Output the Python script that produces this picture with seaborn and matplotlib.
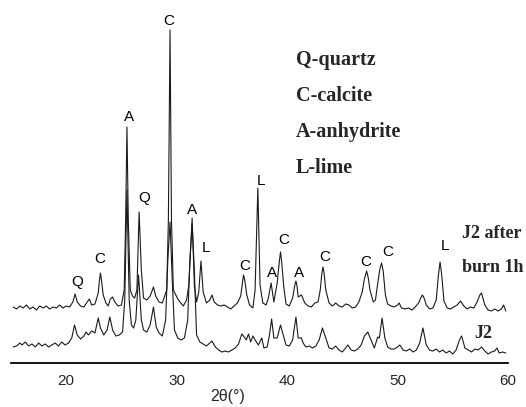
import numpy as np
import pandas as pd
import matplotlib
matplotlib.use("Agg")
import matplotlib.pyplot as plt
import seaborn as sns

# ---------------- data ----------------
# J2 after burn 1h : 2theta and intensity (arbitrary units)
burn_2theta = [15.2, 15.5, 15.8, 16.1, 16.4, 16.7, 17.0, 17.3, 17.6, 17.9, 18.2, 18.5, 18.8, 19.1,
               19.4, 19.7, 20.0, 20.3, 20.6, 20.8, 21.0, 21.3, 21.6, 21.9, 22.1, 22.3, 22.6, 22.9,
               23.0, 23.1, 23.2, 23.35, 23.6, 23.8, 24.0, 24.2, 24.4, 24.7, 25.0, 25.25, 25.38, 25.5,
               25.62, 25.8, 26.0, 26.2, 26.4, 26.6, 26.8, 27.0, 27.3, 27.6, 27.9, 28.1, 28.4, 28.7,
               29.1, 29.25, 29.4, 29.53, 29.7, 30.1, 30.3, 30.6, 30.9, 31.1, 31.4, 31.6, 31.8, 32.0,
               32.2, 32.4, 32.7, 33.0, 33.2, 33.4, 33.7, 34.0, 34.3, 34.6, 34.9, 35.2, 35.5, 35.8,
               35.95, 36.05, 36.15, 36.35, 36.6, 36.9, 37.1, 37.35, 37.55, 37.8, 38.1, 38.3, 38.55, 38.8,
               39.1, 39.3, 39.4, 39.5, 39.7, 39.9, 40.2, 40.5, 40.7, 40.8, 40.9, 41.0, 41.3, 41.6,
               41.9, 42.2, 42.5, 42.8, 43.0, 43.15, 43.25, 43.35, 43.5, 43.8, 44.1, 44.4, 44.7, 45.0,
               45.3, 45.6, 45.9, 46.2, 46.5, 46.8, 47.0, 47.2, 47.35, 47.5, 47.8, 48.0, 48.25, 48.4,
               48.55, 48.7, 48.9, 49.1, 49.4, 49.7, 50.0, 50.15, 50.35, 50.7, 51.0, 51.3, 51.6, 51.9,
               52.1, 52.25, 52.4, 52.6, 52.9, 53.2, 53.5, 53.7, 53.85, 54.0, 54.2, 54.5, 54.8, 55.1,
               55.4, 55.7, 56.0, 56.3, 56.6, 56.9, 57.2, 57.45, 57.6, 57.9, 58.2, 58.5, 58.8, 59.1,
               59.4, 59.6, 59.8]
burn_int = [16, 14, 17, 15, 18, 14, 16, 13, 17, 15, 17, 14, 16, 15,
            18, 15, 17, 16, 21, 29, 21, 17, 16, 21, 24, 18, 19, 30,
            42, 50, 42, 28, 20, 17, 24, 26, 21, 17, 18, 33, 103, 196,
            103, 33, 27, 25, 33, 111, 53, 25, 23, 27, 36, 27, 21, 20,
            33, 103, 293, 103, 33, 24, 21, 17, 23, 38, 105, 38, 21, 31,
            62, 31, 20, 23, 28, 21, 18, 17, 18, 16, 14, 17, 20, 27,
            40, 48, 44, 28, 18, 15, 33, 135, 38, 20, 18, 25, 40, 21,
            40, 62, 71, 62, 36, 19, 17, 25, 38, 42, 37, 26, 28, 20,
            17, 16, 20, 21, 33, 50, 56, 50, 33, 20, 17, 20, 17, 16,
            19, 18, 15, 16, 21, 31, 44, 52, 45, 33, 21, 23, 43, 54,
            60, 52, 28, 19, 17, 16, 18, 20, 15, 14, 15, 13, 16, 20,
            25, 28, 25, 18, 14, 15, 23, 48, 61, 48, 22, 15, 14, 16,
            18, 22, 17, 14, 16, 15, 21, 28, 30, 18, 13, 12, 14, 12,
            14, 18, 12]

# J2 : 2theta and intensity (arbitrary units)
j2_2theta = [15.2, 15.5, 15.8, 16.0, 16.3, 16.6, 16.9, 17.2, 17.5, 17.8, 18.1, 18.4, 18.7, 19.0,
             19.3, 19.6, 19.9, 20.2, 20.5, 20.75, 21.0, 21.3, 21.6, 21.8, 22.0, 22.3, 22.6, 22.9,
             23.1, 23.4, 23.7, 23.95, 24.2, 24.5, 24.8, 25.1, 25.3, 25.5, 25.7, 25.9, 26.1, 26.3,
             26.55, 26.8, 27.0, 27.3, 27.6, 27.9, 28.15, 28.4, 28.7, 29.0, 29.2, 29.4, 29.6, 29.8,
             30.1, 30.4, 30.7, 31.0, 31.2, 31.4, 31.6, 31.8, 32.1, 32.4, 32.7, 33.0, 33.2, 33.5,
             33.8, 34.1, 34.4, 34.7, 35.0, 35.3, 35.6, 35.9, 36.05, 36.3, 36.5, 36.7, 36.9, 37.1,
             37.4, 37.7, 37.9, 38.2, 38.4, 38.6, 38.8, 39.1, 39.4, 39.6, 39.9, 40.2, 40.5, 40.8,
             41.0, 41.3, 41.45, 41.7, 42.0, 42.3, 42.6, 42.9, 43.2, 43.5, 43.8, 44.1, 44.4, 44.7,
             45.0, 45.3, 45.5, 45.8, 46.1, 46.4, 46.7, 47.0, 47.3, 47.6, 47.9, 48.2, 48.35, 48.6,
             48.85, 49.1, 49.4, 49.7, 50.0, 50.2, 50.5, 50.8, 51.1, 51.4, 51.7, 52.0, 52.3, 52.6,
             52.9, 53.2, 53.5, 53.8, 54.1, 54.4, 54.7, 55.0, 55.3, 55.6, 55.8, 56.1, 56.4, 56.7,
             57.0, 57.3, 57.6, 57.9, 58.2, 58.5, 58.8, 59.0, 59.2, 59.5, 59.8]
j2_int = [16, 17, 20, 18, 21, 17, 19, 16, 20, 17, 19, 16, 18, 20,
          17, 21, 18, 20, 25, 38, 28, 24, 27, 31, 28, 32, 30, 45,
          35, 28, 33, 46, 33, 27, 28, 31, 63, 173, 63, 38, 35, 43,
          88, 43, 33, 31, 38, 56, 36, 30, 27, 43, 103, 141, 83, 33,
          25, 23, 25, 43, 103, 139, 93, 28, 21, 19, 17, 20, 22, 16,
          13, 11, 12, 11, 13, 15, 19, 29, 27, 23, 29, 21, 27, 23,
          18, 25, 15, 16, 28, 44, 25, 25, 38, 30, 18, 17, 23, 46,
          25, 25, 20, 16, 17, 15, 17, 23, 35, 25, 15, 14, 17, 13,
          11, 15, 18, 13, 12, 14, 18, 27, 31, 23, 15, 26, 25, 45,
          25, 16, 14, 14, 16, 18, 13, 12, 14, 11, 13, 20, 35, 18,
          13, 12, 14, 11, 13, 10, 12, 9, 13, 23, 27, 15, 13, 11,
          14, 13, 16, 12, 9, 11, 12, 15, 10, 11, 10]

# peak labels: phase letter, 2theta position and height of the letter
peak_letters = ["Q", "C", "A", "Q", "C", "A", "L", "C", "L", "A", "C", "A", "C", "C", "C", "L"]
peak_2theta = [21.0, 23.05, 25.7, 27.1, 29.3, 31.4, 32.7, 36.2, 37.6, 38.6, 39.7, 41.1, 43.4, 47.1, 49.1, 54.3]
peak_label_h = [81, 104, 246, 165, 342, 153, 115, 97, 182, 90, 123, 90, 106, 101, 111, 117]

legend_lines = ["Q-quartz", "C-calcite", "A-anhydrite", "L-lime"]

# ---------------- plot ----------------
sns.set_style("white")
plt.rcParams["font.family"] = ["Liberation Sans", "DejaVu Sans"]

W, H = 526, 407
fig = plt.figure(figsize=(W / 100, H / 100), dpi=100)
ax = fig.add_axes([11 / W, (H - 363) / H, (508 - 11) / W, (363 - 10) / H])

offset = 40
df = pd.concat([
    pd.DataFrame({"2theta": j2_2theta, "I": j2_int, "sample": "J2"}),
    pd.DataFrame({"2theta": burn_2theta, "I": np.array(burn_int) + offset, "sample": "J2 after burn 1h"}),
])
sns.lineplot(data=df, x="2theta", y="I", units="sample", estimator=None, sort=False,
             color="#1a1a1a", linewidth=0.8, ax=ax, legend=False)

ax.set_xlim(15, 60)
ax.set_ylim(0, 353)
ax.set_xticks([20, 30, 40, 50, 60])
ax.set_xticks([15, 25, 35, 45, 55], minor=True)
ax.tick_params(axis="x", which="major", direction="out", length=5, width=1.2,
               labelsize=11, pad=3, color="black")
ax.tick_params(axis="x", which="minor", direction="out", length=4, width=1.2, color="black")
ax.set_yticks([])
for s in ["top", "right", "left"]:
    ax.spines[s].set_visible(False)
ax.spines["bottom"].set_linewidth(1.3)
ax.spines["bottom"].set_color("black")
ax.set_xlabel("")
ax.set_ylabel("")

for t, x, h in zip(peak_letters, peak_2theta, peak_label_h):
    ax.text(x, h, t, ha="center", va="center", fontsize=11, color="black")

fig.text(228 / W, 1 - 397 / H, "2θ(°)", ha="center", va="center", fontsize=11.5)

serif = ["Liberation Serif", "DejaVu Serif"]
for i, t in enumerate(legend_lines):
    fig.text(296 / W, 1 - (60 + 36 * i) / H, t, ha="left", va="center",
             fontsize=14.5, fontweight="bold", family=serif)

fig.text(462 / W, 1 - 233 / H, "J2 after", ha="left", va="center", fontsize=13,
         fontweight="bold", family=serif)
fig.text(462 / W, 1 - 268 / H, "burn 1h", ha="left", va="center", fontsize=13,
         fontweight="bold", family=serif)
fig.text(474 / W, 1 - 333 / H, "J2", ha="left", va="center", fontsize=13,
         fontweight="bold", family=serif)

fig.savefig("out.png", dpi=100)
